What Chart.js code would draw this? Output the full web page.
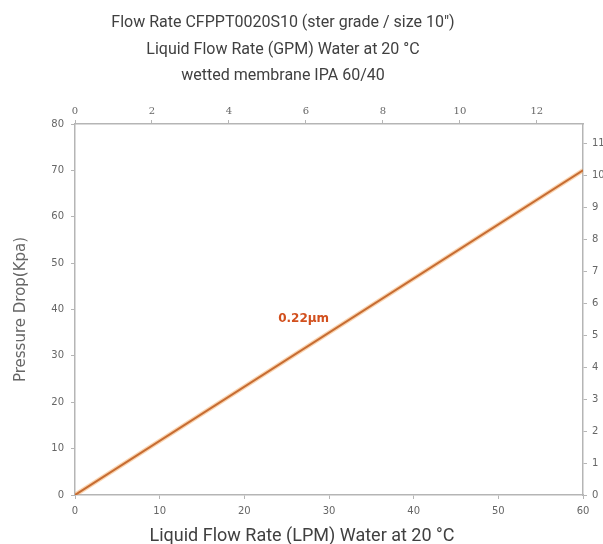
<!DOCTYPE html>
<html>
<head>
<meta charset="utf-8">
<script src="https://cdn.jsdelivr.net/npm/chart.js@4"></script>
<style>
  html, body { margin: 0; padding: 0; overflow: hidden; background: #fff; }
  #wrap { position: relative; width: 620px; height: 544px; }
  .title { position: absolute; left: 0; text-align: center; font-family: Roboto, sans-serif; color: #404040; }
  #top-title { top: 9px; width: 566px; font-size: 16px; line-height: 26.5px; }
  #bottom-title { top: 524px; width: 604px; font-size: 18px; line-height: 22px; }
</style>
</head>
<body>
<div id="wrap">
  <canvas id="flowChart" width="620" height="544"></canvas>
  <div class="title" id="top-title">Flow Rate CFPPT0020S10 (ster grade / size 10")<br>Liquid Flow Rate (GPM) Water at 20 °C<br>wetted membrane IPA 60/40</div>
  <div class="title" id="bottom-title">Liquid Flow Rate (LPM) Water at 20 °C</div>
</div>
<script>
// flow in LPM vs pressure drop in kPa
const flowLpm = [0, 60];
const dropKpa = [0, 70];
const seriesLabel = '0.22µm';
const labelAt = [27, 38];

const LPM_PER_GPM = 4.546;
const KPA_PER_PSI = 6.895;

const axisGrey = '#b5b5b5';
const tickFont = { family: 'DejaVu Sans', size: 10 };

let points = flowLpm.map((f, i) => ({ x: f, y: dropKpa[i] }));

const seriesLabelPlugin = {
    id: 'seriesLabel',
    afterDatasetsDraw(chart) {
        let ctx = chart.ctx;
        let px = chart.scales.x.getPixelForValue(labelAt[0]);
        let py = chart.scales.y.getPixelForValue(labelAt[1]);
        ctx.save();
        ctx.font = 'bold 12px "DejaVu Sans"';
        ctx.fillStyle = '#d2501e';
        ctx.textAlign = 'center';
        ctx.textBaseline = 'middle';
        ctx.fillText(seriesLabel, px, py);
        ctx.restore();
    }
};

function axisGrid() {
    return { display: true, drawOnChartArea: false, drawTicks: true, tickLength: 4, color: axisGrey, lineWidth: 1 };
}

let ctx = document.getElementById('flowChart').getContext('2d');
new Chart(ctx, {
    type: 'scatter',
    data: {
        datasets: [{
            data: points,
            showLine: true,
            borderColor: 'rgba(245, 160, 80, 0.45)',
            borderWidth: 4.5,
            pointRadius: 0
        }, {
            data: points,
            showLine: true,
            borderColor: '#a2431b',
            borderWidth: 2,
            pointRadius: 0
        }]
    },
    options: {
        responsive: false,
        animation: false,
        layout: { padding: 0 },
        plugins: { legend: { display: false }, tooltip: { enabled: false } },
        scales: {
            x: {
                type: 'linear', position: 'bottom', min: 0, max: 60,
                grid: axisGrid(),
                border: { color: axisGrey, width: 1.5 },
                ticks: { stepSize: 10, padding: 6, color: '#666', font: tickFont },
                afterFit(s) { s.height = 49; }
            },
            x2: {
                type: 'linear', position: 'top', min: 0, max: 60 / LPM_PER_GPM,
                grid: axisGrid(),
                border: { color: axisGrey, width: 1.5 },
                ticks: { stepSize: 2, includeBounds: false, padding: 3, color: '#666', font: { family: 'DejaVu Serif', size: 10 } },
                afterFit(s) { s.height = 124; }
            },
            y: {
                type: 'linear', position: 'left', min: 0, max: 80,
                grid: axisGrid(),
                border: { color: axisGrey, width: 1.5 },
                ticks: { stepSize: 10, padding: 7, color: '#666', font: tickFont },
                title: { display: true, text: 'Pressure Drop(Kpa)', color: '#666', font: { family: 'DejaVu Sans', size: 15 }, padding: { top: 12, bottom: 0 } },
                afterFit(s) { s.width = 75; }
            },
            y2: {
                type: 'linear', position: 'right', min: 0, max: 80 / KPA_PER_PSI,
                grid: axisGrid(),
                border: { color: axisGrey, width: 1.5 },
                ticks: { stepSize: 1, includeBounds: false, padding: 5, color: '#666', font: tickFont },
                afterFit(s) { s.width = 37; }
            }
        }
    },
    plugins: [seriesLabelPlugin]
});
</script>
</body>
</html>
